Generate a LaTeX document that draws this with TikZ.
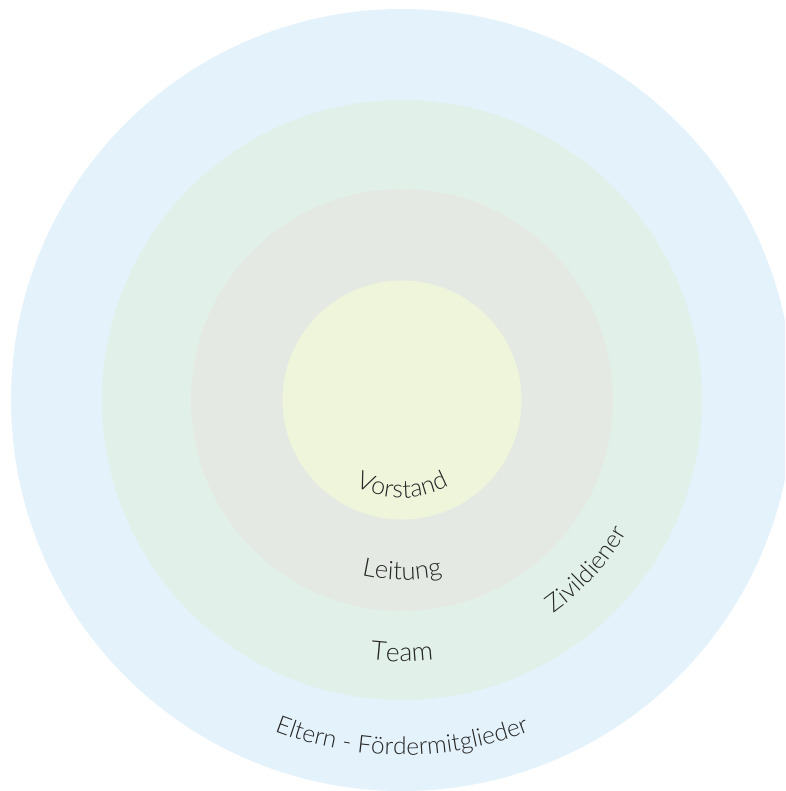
\documentclass[tikz,border=0pt]{standalone}
\usepackage{fontspec}
\setmainfont{Lato Light}
\usetikzlibrary{decorations.text}

\definecolor{ringOuter}{HTML}{E4F2FB}
\definecolor{ringTeam}{HTML}{E1F0E9}
\definecolor{ringLead}{HTML}{E5E9E4}
\definecolor{ringCore}{HTML}{EEF5DB}
\definecolor{labelInk}{HTML}{262626}

\tikzset{
  ring/.style={circle, inner sep=0pt, draw=none},
  % text laid along an arc around the common centre
  arclabel/.style={
    decorate,
    decoration={text along path, text align=center,
      text={|\fontsize{#1}{#1}\selectfont\color{labelInk}|\labeltext}}
  }
}
\newcommand\labeltext{}

\begin{document}
\begin{tikzpicture}[x=1pt, y=-1pt]
  \useasboundingbox (0,0) rectangle (785,791);
  \clip (0,0) rectangle (785,791);
  \coordinate (c) at (402,400);

  \node[ring, fill=ringOuter, minimum size=782pt] (outer) at (c) {};
  \node[ring, fill=ringTeam,  minimum size=600pt] (team)  at (c) {};
  \node[ring, fill=ringLead,  minimum size=422pt] (lead)  at (c) {};
  \node[ring, fill=ringCore,  minimum size=239pt] (core)  at (c) {};

  % labels along concentric arcs
  \renewcommand\labeltext{Vorstand}
  \path[arclabel=25] (c) ++(150:98) arc[start angle=150, end angle=30, radius=98];

  \renewcommand\labeltext{Leitung}
  \path[arclabel=25.5] (c) ++(125:180) arc[start angle=125, end angle=55, radius=180];

  \renewcommand\labeltext{Team}
  \path[arclabel=26.5] (c) ++(115:261.5) arc[start angle=115, end angle=65, radius=261.5];

  \renewcommand\labeltext{Zivildiener}
  \path[arclabel=24.5] (c) ++(70:261.5) arc[start angle=70, end angle=15, radius=261.5];

  \renewcommand\labeltext{Eltern - Fördermitglieder}
  \path[arclabel=24.5] (c) ++(125:355) arc[start angle=125, end angle=55, radius=355];
\end{tikzpicture}
\end{document}
